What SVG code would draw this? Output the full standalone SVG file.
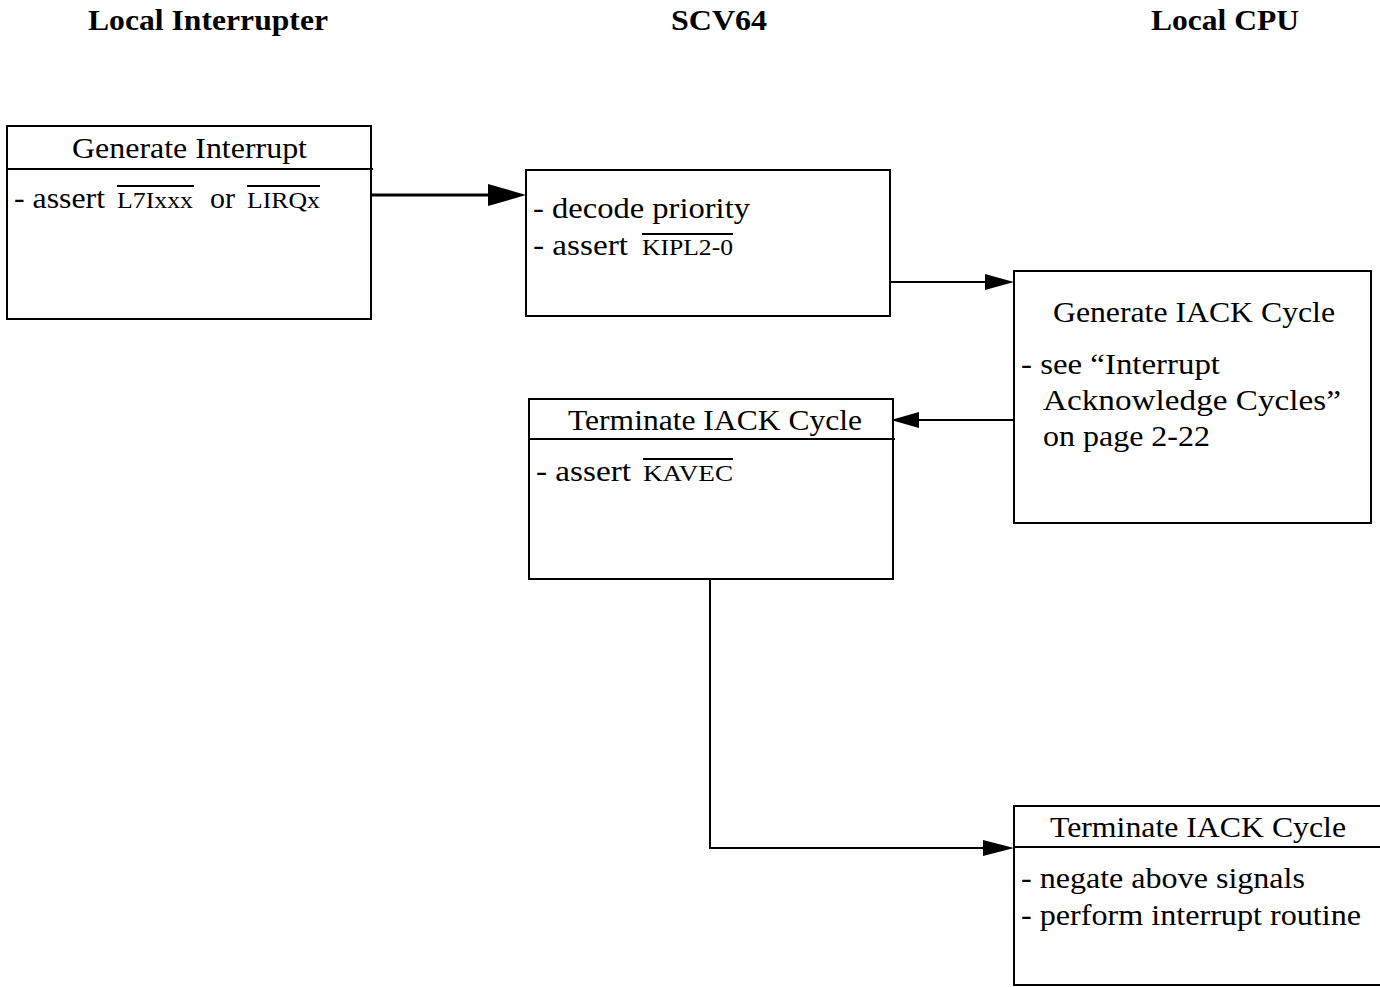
<svg xmlns="http://www.w3.org/2000/svg" width="1380" height="987" viewBox="0 0 1380 987">
<style>
.box{fill:#fff;stroke:#000;stroke-width:2}
.div{stroke:#000;stroke-width:2}
.t{font-family:"Liberation Serif","Times New Roman",serif;font-size:29px;fill:#000}
.s{font-family:"Liberation Serif","Times New Roman",serif;font-size:23px;fill:#000}
.h{font-family:"Liberation Serif","Times New Roman",serif;font-size:30px;font-weight:bold;fill:#000}
.ov{stroke:#000;stroke-width:2}
.ln{fill:none;stroke:#000;stroke-width:2}
.ah{fill:#000;stroke:none}
</style>
<rect width="1380" height="987" fill="#fff"/>
<g id="headers">
<text class="h" x="88" y="30" textLength="240" lengthAdjust="spacingAndGlyphs">Local Interrupter</text>
<text class="h" x="671" y="30" textLength="96" lengthAdjust="spacingAndGlyphs">SCV64</text>
<text class="h" x="1151" y="30" textLength="148" lengthAdjust="spacingAndGlyphs">Local CPU</text>
</g>
<g id="connectors">
<line class="ln" x1="371" y1="195" x2="490" y2="195" style="stroke-width:3"/>
<polygon class="ah" points="526,195 488,184 488,206"/>
<line class="ln" x1="890" y1="282" x2="986" y2="282"/>
<polygon class="ah" points="1014,282 985,274 985,290"/>
<line class="ln" x1="1014" y1="420" x2="917" y2="420"/>
<polygon class="ah" points="891,420 919,412 919,428"/>
<polyline class="ln" points="710,579 710,848 985,848"/>
<polygon class="ah" points="1014,848 983,840 983,856"/>
</g>
<g id="generate-interrupt">
<rect class="box" x="7" y="126" width="364" height="193"/>
<line class="div" x1="7" y1="169" x2="373" y2="169"/>
<text class="t" x="72" y="158" textLength="235" lengthAdjust="spacingAndGlyphs">Generate Interrupt</text>
<text class="t" x="14" y="208" textLength="91" lengthAdjust="spacingAndGlyphs">- assert</text>
<text class="s" x="117" y="208" textLength="76" lengthAdjust="spacingAndGlyphs">L7Ixxx</text>
<line class="ov" x1="117" y1="186" x2="194" y2="186"/>
<text class="t" x="210" y="208" textLength="25" lengthAdjust="spacingAndGlyphs">or</text>
<text class="s" x="247" y="208" textLength="73" lengthAdjust="spacingAndGlyphs">LIRQx</text>
<line class="ov" x1="247" y1="186" x2="320" y2="186"/>
</g>
<g id="decode-priority">
<rect class="box" x="526" y="170" width="364" height="146"/>
<text class="t" x="533" y="218" textLength="217" lengthAdjust="spacingAndGlyphs">- decode priority</text>
<text class="t" x="533" y="255" textLength="95" lengthAdjust="spacingAndGlyphs">- assert</text>
<text class="s" x="642" y="255" textLength="91" lengthAdjust="spacingAndGlyphs">KIPL2-0</text>
<line class="ov" x1="642" y1="234" x2="733" y2="234"/>
</g>
<g id="generate-iack">
<rect class="box" x="1014" y="271" width="357" height="252"/>
<text class="t" x="1053" y="322" textLength="282" lengthAdjust="spacingAndGlyphs">Generate IACK Cycle</text>
<text class="t" x="1021" y="374" textLength="199" lengthAdjust="spacingAndGlyphs">- see “Interrupt</text>
<text class="t" x="1043" y="410" textLength="298" lengthAdjust="spacingAndGlyphs">Acknowledge Cycles”</text>
<text class="t" x="1043" y="446" textLength="167" lengthAdjust="spacingAndGlyphs">on page 2-22</text>
</g>
<g id="terminate-iack-scv">
<rect class="box" x="529" y="399" width="364" height="180"/>
<line class="div" x1="529" y1="439" x2="895" y2="439"/>
<text class="t" x="568" y="430" textLength="294" lengthAdjust="spacingAndGlyphs">Terminate IACK Cycle</text>
<text class="t" x="536" y="481" textLength="95" lengthAdjust="spacingAndGlyphs">- assert</text>
<text class="s" x="643" y="481" textLength="90" lengthAdjust="spacingAndGlyphs">KAVEC</text>
<line class="ov" x1="643" y1="459" x2="733" y2="459"/>
</g>
<g id="terminate-iack-cpu">
<rect class="box" x="1014" y="806" width="370" height="179"/>
<line class="div" x1="1014" y1="847" x2="1380" y2="847"/>
<text class="t" x="1050" y="837" textLength="296" lengthAdjust="spacingAndGlyphs">Terminate IACK Cycle</text>
<text class="t" x="1021" y="888" textLength="284" lengthAdjust="spacingAndGlyphs">- negate above signals</text>
<text class="t" x="1021" y="925" textLength="340" lengthAdjust="spacingAndGlyphs">- perform interrupt routine</text>
</g>
</svg>
